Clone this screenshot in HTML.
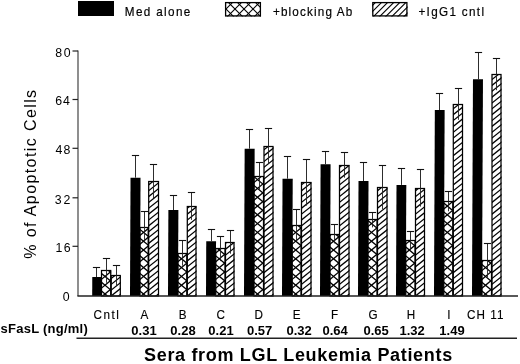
<!DOCTYPE html>
<html><head><meta charset="utf-8"><style>
html,body{margin:0;padding:0;background:#fff;width:520px;height:364px;overflow:hidden}
svg{display:block;font-family:"Liberation Sans", sans-serif;filter:blur(0.3px)}
</style></head><body>
<svg width="520" height="364" viewBox="0 0 520 364" font-family='"Liberation Sans", sans-serif' fill="#000">
<defs><clipPath id="c1"><rect x="101.5" y="270.5" width="9.700000000000003" height="25.5"/></clipPath><clipPath id="c2"><rect x="111.2" y="275.7" width="9.599999999999994" height="20.30000000000001"/></clipPath><clipPath id="c3"><rect x="140" y="227" width="8.699999999999989" height="69"/></clipPath><clipPath id="c4"><rect x="148.7" y="181.4" width="10.300000000000011" height="114.6"/></clipPath><clipPath id="c5"><rect x="178" y="253.1" width="9.300000000000011" height="42.900000000000006"/></clipPath><clipPath id="c6"><rect x="187.3" y="206.2" width="9.199999999999989" height="89.80000000000001"/></clipPath><clipPath id="c7"><rect x="215.8" y="248.8" width="9.699999999999989" height="47.19999999999999"/></clipPath><clipPath id="c8"><rect x="225.5" y="242.1" width="9.0" height="53.900000000000006"/></clipPath><clipPath id="c9"><rect x="254" y="176.1" width="10" height="119.9"/></clipPath><clipPath id="c10"><rect x="264" y="146.2" width="9.5" height="149.8"/></clipPath><clipPath id="c11"><rect x="292.2" y="225.2" width="9.300000000000011" height="70.80000000000001"/></clipPath><clipPath id="c12"><rect x="301.5" y="182.5" width="10.0" height="113.5"/></clipPath><clipPath id="c13"><rect x="330" y="234.1" width="9.5" height="61.900000000000006"/></clipPath><clipPath id="c14"><rect x="339.5" y="165.2" width="10.0" height="130.8"/></clipPath><clipPath id="c15"><rect x="368" y="219.8" width="9.5" height="76.19999999999999"/></clipPath><clipPath id="c16"><rect x="377.5" y="187.2" width="10.0" height="108.80000000000001"/></clipPath><clipPath id="c17"><rect x="405.8" y="240.3" width="9.699999999999989" height="55.69999999999999"/></clipPath><clipPath id="c18"><rect x="415.5" y="188.2" width="9.5" height="107.80000000000001"/></clipPath><clipPath id="c19"><rect x="443.8" y="201.4" width="9.5" height="94.6"/></clipPath><clipPath id="c20"><rect x="453.3" y="104" width="9.699999999999989" height="192"/></clipPath><clipPath id="c21"><rect x="482" y="260.2" width="10" height="35.80000000000001"/></clipPath><clipPath id="c22"><rect x="492" y="74.1" width="9.5" height="221.9"/></clipPath><clipPath id="c23"><rect x="225" y="2" width="36" height="14.5"/></clipPath><clipPath id="c24"><rect x="372.2" y="2" width="35.30000000000001" height="14.5"/></clipPath></defs>
<rect width="520" height="364" fill="#fff"/>
<g transform="matrix(1 0 -0.0045 1 1.3320 0)">
<rect x="92.2" y="277.1" width="9.299999999999997" height="18.899999999999977" fill="#000"/><rect x="130" y="177.7" width="10" height="118.30000000000001" fill="#000"/><rect x="168" y="210" width="10" height="86" fill="#000"/><rect x="206" y="241.2" width="9.800000000000011" height="54.80000000000001" fill="#000"/><rect x="244" y="148.7" width="10" height="147.3" fill="#000"/><rect x="282" y="178.7" width="10.199999999999989" height="117.30000000000001" fill="#000"/><rect x="320" y="164.2" width="10" height="131.8" fill="#000"/><rect x="358" y="181" width="10" height="115" fill="#000"/><rect x="396" y="184.9" width="9.800000000000011" height="111.1" fill="#000"/><rect x="434" y="110" width="9.800000000000011" height="186" fill="#000"/><rect x="472" y="79.3" width="10" height="216.7" fill="#000"/>
</g>
<g stroke="#000" stroke-width="1.3"><g clip-path="url(#c1)"><line x1="81.50" y1="186.49" x2="131.20" y2="227.75"/><line x1="81.50" y1="225.51" x2="131.20" y2="184.25"/><line x1="81.50" y1="195.29" x2="131.20" y2="236.55"/><line x1="81.50" y1="234.31" x2="131.20" y2="193.05"/><line x1="81.50" y1="204.09" x2="131.20" y2="245.35"/><line x1="81.50" y1="243.11" x2="131.20" y2="201.85"/><line x1="81.50" y1="212.89" x2="131.20" y2="254.15"/><line x1="81.50" y1="251.91" x2="131.20" y2="210.65"/><line x1="81.50" y1="221.69" x2="131.20" y2="262.95"/><line x1="81.50" y1="260.71" x2="131.20" y2="219.45"/><line x1="81.50" y1="230.49" x2="131.20" y2="271.75"/><line x1="81.50" y1="269.51" x2="131.20" y2="228.25"/><line x1="81.50" y1="239.29" x2="131.20" y2="280.55"/><line x1="81.50" y1="278.31" x2="131.20" y2="237.05"/><line x1="81.50" y1="248.09" x2="131.20" y2="289.35"/><line x1="81.50" y1="287.11" x2="131.20" y2="245.85"/><line x1="81.50" y1="256.89" x2="131.20" y2="298.15"/><line x1="81.50" y1="295.91" x2="131.20" y2="254.65"/><line x1="81.50" y1="265.69" x2="131.20" y2="306.95"/><line x1="81.50" y1="304.71" x2="131.20" y2="263.45"/><line x1="81.50" y1="274.49" x2="131.20" y2="315.75"/><line x1="81.50" y1="313.51" x2="131.20" y2="272.25"/><line x1="81.50" y1="283.29" x2="131.20" y2="324.55"/><line x1="81.50" y1="322.31" x2="131.20" y2="281.05"/><line x1="81.50" y1="292.09" x2="131.20" y2="333.35"/><line x1="81.50" y1="331.11" x2="131.20" y2="289.85"/><line x1="81.50" y1="300.89" x2="131.20" y2="342.15"/><line x1="81.50" y1="339.91" x2="131.20" y2="298.65"/><line x1="81.50" y1="309.69" x2="131.20" y2="350.95"/><line x1="81.50" y1="348.71" x2="131.20" y2="307.45"/><line x1="81.50" y1="318.49" x2="131.20" y2="359.75"/><line x1="81.50" y1="357.51" x2="131.20" y2="316.25"/><line x1="81.50" y1="327.29" x2="131.20" y2="368.55"/><line x1="81.50" y1="366.31" x2="131.20" y2="325.05"/></g></g><rect x="101.5" y="270.5" width="9.200000000000003" height="25.5" fill="none" stroke="#000" stroke-width="1.25"/><g stroke="#000" stroke-width="1.25"><g clip-path="url(#c2)"><line x1="106.20" y1="223.95" x2="125.80" y2="208.27"/><line x1="106.20" y1="229.80" x2="125.80" y2="214.12"/><line x1="106.20" y1="235.65" x2="125.80" y2="219.97"/><line x1="106.20" y1="241.50" x2="125.80" y2="225.82"/><line x1="106.20" y1="247.35" x2="125.80" y2="231.67"/><line x1="106.20" y1="253.20" x2="125.80" y2="237.52"/><line x1="106.20" y1="259.05" x2="125.80" y2="243.37"/><line x1="106.20" y1="264.90" x2="125.80" y2="249.22"/><line x1="106.20" y1="270.75" x2="125.80" y2="255.07"/><line x1="106.20" y1="276.60" x2="125.80" y2="260.92"/><line x1="106.20" y1="282.45" x2="125.80" y2="266.77"/><line x1="106.20" y1="288.30" x2="125.80" y2="272.62"/><line x1="106.20" y1="294.15" x2="125.80" y2="278.47"/><line x1="106.20" y1="300.00" x2="125.80" y2="284.32"/><line x1="106.20" y1="305.85" x2="125.80" y2="290.17"/><line x1="106.20" y1="311.70" x2="125.80" y2="296.02"/><line x1="106.20" y1="317.55" x2="125.80" y2="301.87"/><line x1="106.20" y1="323.40" x2="125.80" y2="307.72"/><line x1="106.20" y1="329.25" x2="125.80" y2="313.57"/><line x1="106.20" y1="335.10" x2="125.80" y2="319.42"/><line x1="106.20" y1="340.95" x2="125.80" y2="325.27"/><line x1="106.20" y1="346.80" x2="125.80" y2="331.12"/></g></g><rect x="111.2" y="275.5" width="9.099999999999994" height="20.5" fill="none" stroke="#000" stroke-width="1.25"/><g stroke="#000" stroke-width="1.3"><g clip-path="url(#c3)"><line x1="120.00" y1="142.49" x2="168.70" y2="182.92"/><line x1="120.00" y1="181.51" x2="168.70" y2="141.08"/><line x1="120.00" y1="151.29" x2="168.70" y2="191.72"/><line x1="120.00" y1="190.31" x2="168.70" y2="149.88"/><line x1="120.00" y1="160.09" x2="168.70" y2="200.52"/><line x1="120.00" y1="199.11" x2="168.70" y2="158.68"/><line x1="120.00" y1="168.89" x2="168.70" y2="209.32"/><line x1="120.00" y1="207.91" x2="168.70" y2="167.48"/><line x1="120.00" y1="177.69" x2="168.70" y2="218.12"/><line x1="120.00" y1="216.71" x2="168.70" y2="176.28"/><line x1="120.00" y1="186.49" x2="168.70" y2="226.92"/><line x1="120.00" y1="225.51" x2="168.70" y2="185.08"/><line x1="120.00" y1="195.29" x2="168.70" y2="235.72"/><line x1="120.00" y1="234.31" x2="168.70" y2="193.88"/><line x1="120.00" y1="204.09" x2="168.70" y2="244.52"/><line x1="120.00" y1="243.11" x2="168.70" y2="202.68"/><line x1="120.00" y1="212.89" x2="168.70" y2="253.32"/><line x1="120.00" y1="251.91" x2="168.70" y2="211.48"/><line x1="120.00" y1="221.69" x2="168.70" y2="262.12"/><line x1="120.00" y1="260.71" x2="168.70" y2="220.28"/><line x1="120.00" y1="230.49" x2="168.70" y2="270.92"/><line x1="120.00" y1="269.51" x2="168.70" y2="229.08"/><line x1="120.00" y1="239.29" x2="168.70" y2="279.72"/><line x1="120.00" y1="278.31" x2="168.70" y2="237.88"/><line x1="120.00" y1="248.09" x2="168.70" y2="288.52"/><line x1="120.00" y1="287.11" x2="168.70" y2="246.68"/><line x1="120.00" y1="256.89" x2="168.70" y2="297.32"/><line x1="120.00" y1="295.91" x2="168.70" y2="255.48"/><line x1="120.00" y1="265.69" x2="168.70" y2="306.12"/><line x1="120.00" y1="304.71" x2="168.70" y2="264.28"/><line x1="120.00" y1="274.49" x2="168.70" y2="314.92"/><line x1="120.00" y1="313.51" x2="168.70" y2="273.08"/><line x1="120.00" y1="283.29" x2="168.70" y2="323.72"/><line x1="120.00" y1="322.31" x2="168.70" y2="281.88"/><line x1="120.00" y1="292.09" x2="168.70" y2="332.52"/><line x1="120.00" y1="331.11" x2="168.70" y2="290.68"/><line x1="120.00" y1="300.89" x2="168.70" y2="341.32"/><line x1="120.00" y1="339.91" x2="168.70" y2="299.48"/><line x1="120.00" y1="309.69" x2="168.70" y2="350.12"/><line x1="120.00" y1="348.71" x2="168.70" y2="308.28"/><line x1="120.00" y1="318.49" x2="168.70" y2="358.92"/><line x1="120.00" y1="357.51" x2="168.70" y2="317.08"/><line x1="120.00" y1="327.29" x2="168.70" y2="367.72"/><line x1="120.00" y1="366.31" x2="168.70" y2="325.88"/></g></g><rect x="140" y="227.5" width="8.199999999999989" height="68.5" fill="none" stroke="#000" stroke-width="1.25"/><g stroke="#000" stroke-width="1.25"><g clip-path="url(#c4)"><line x1="143.70" y1="130.35" x2="164.00" y2="114.11"/><line x1="143.70" y1="136.20" x2="164.00" y2="119.96"/><line x1="143.70" y1="142.05" x2="164.00" y2="125.81"/><line x1="143.70" y1="147.90" x2="164.00" y2="131.66"/><line x1="143.70" y1="153.75" x2="164.00" y2="137.51"/><line x1="143.70" y1="159.60" x2="164.00" y2="143.36"/><line x1="143.70" y1="165.45" x2="164.00" y2="149.21"/><line x1="143.70" y1="171.30" x2="164.00" y2="155.06"/><line x1="143.70" y1="177.15" x2="164.00" y2="160.91"/><line x1="143.70" y1="183.00" x2="164.00" y2="166.76"/><line x1="143.70" y1="188.85" x2="164.00" y2="172.61"/><line x1="143.70" y1="194.70" x2="164.00" y2="178.46"/><line x1="143.70" y1="200.55" x2="164.00" y2="184.31"/><line x1="143.70" y1="206.40" x2="164.00" y2="190.16"/><line x1="143.70" y1="212.25" x2="164.00" y2="196.01"/><line x1="143.70" y1="218.10" x2="164.00" y2="201.86"/><line x1="143.70" y1="223.95" x2="164.00" y2="207.71"/><line x1="143.70" y1="229.80" x2="164.00" y2="213.56"/><line x1="143.70" y1="235.65" x2="164.00" y2="219.41"/><line x1="143.70" y1="241.50" x2="164.00" y2="225.26"/><line x1="143.70" y1="247.35" x2="164.00" y2="231.11"/><line x1="143.70" y1="253.20" x2="164.00" y2="236.96"/><line x1="143.70" y1="259.05" x2="164.00" y2="242.81"/><line x1="143.70" y1="264.90" x2="164.00" y2="248.66"/><line x1="143.70" y1="270.75" x2="164.00" y2="254.51"/><line x1="143.70" y1="276.60" x2="164.00" y2="260.36"/><line x1="143.70" y1="282.45" x2="164.00" y2="266.21"/><line x1="143.70" y1="288.30" x2="164.00" y2="272.06"/><line x1="143.70" y1="294.15" x2="164.00" y2="277.91"/><line x1="143.70" y1="300.00" x2="164.00" y2="283.76"/><line x1="143.70" y1="305.85" x2="164.00" y2="289.61"/><line x1="143.70" y1="311.70" x2="164.00" y2="295.46"/><line x1="143.70" y1="317.55" x2="164.00" y2="301.31"/><line x1="143.70" y1="323.40" x2="164.00" y2="307.16"/><line x1="143.70" y1="329.25" x2="164.00" y2="313.01"/><line x1="143.70" y1="335.10" x2="164.00" y2="318.86"/><line x1="143.70" y1="340.95" x2="164.00" y2="324.71"/><line x1="143.70" y1="346.80" x2="164.00" y2="330.56"/></g></g><rect x="148.7" y="181.5" width="9.800000000000011" height="114.5" fill="none" stroke="#000" stroke-width="1.25"/><g stroke="#000" stroke-width="1.3"><g clip-path="url(#c5)"><line x1="158.00" y1="168.89" x2="207.30" y2="209.82"/><line x1="158.00" y1="207.91" x2="207.30" y2="166.98"/><line x1="158.00" y1="177.69" x2="207.30" y2="218.62"/><line x1="158.00" y1="216.71" x2="207.30" y2="175.78"/><line x1="158.00" y1="186.49" x2="207.30" y2="227.42"/><line x1="158.00" y1="225.51" x2="207.30" y2="184.58"/><line x1="158.00" y1="195.29" x2="207.30" y2="236.22"/><line x1="158.00" y1="234.31" x2="207.30" y2="193.38"/><line x1="158.00" y1="204.09" x2="207.30" y2="245.02"/><line x1="158.00" y1="243.11" x2="207.30" y2="202.18"/><line x1="158.00" y1="212.89" x2="207.30" y2="253.82"/><line x1="158.00" y1="251.91" x2="207.30" y2="210.98"/><line x1="158.00" y1="221.69" x2="207.30" y2="262.62"/><line x1="158.00" y1="260.71" x2="207.30" y2="219.78"/><line x1="158.00" y1="230.49" x2="207.30" y2="271.42"/><line x1="158.00" y1="269.51" x2="207.30" y2="228.58"/><line x1="158.00" y1="239.29" x2="207.30" y2="280.22"/><line x1="158.00" y1="278.31" x2="207.30" y2="237.38"/><line x1="158.00" y1="248.09" x2="207.30" y2="289.02"/><line x1="158.00" y1="287.11" x2="207.30" y2="246.18"/><line x1="158.00" y1="256.89" x2="207.30" y2="297.82"/><line x1="158.00" y1="295.91" x2="207.30" y2="254.98"/><line x1="158.00" y1="265.69" x2="207.30" y2="306.62"/><line x1="158.00" y1="304.71" x2="207.30" y2="263.78"/><line x1="158.00" y1="274.49" x2="207.30" y2="315.42"/><line x1="158.00" y1="313.51" x2="207.30" y2="272.58"/><line x1="158.00" y1="283.29" x2="207.30" y2="324.22"/><line x1="158.00" y1="322.31" x2="207.30" y2="281.38"/><line x1="158.00" y1="292.09" x2="207.30" y2="333.02"/><line x1="158.00" y1="331.11" x2="207.30" y2="290.18"/><line x1="158.00" y1="300.89" x2="207.30" y2="341.82"/><line x1="158.00" y1="339.91" x2="207.30" y2="298.98"/><line x1="158.00" y1="309.69" x2="207.30" y2="350.62"/><line x1="158.00" y1="348.71" x2="207.30" y2="307.78"/><line x1="158.00" y1="318.49" x2="207.30" y2="359.42"/><line x1="158.00" y1="357.51" x2="207.30" y2="316.58"/><line x1="158.00" y1="327.29" x2="207.30" y2="368.22"/><line x1="158.00" y1="366.31" x2="207.30" y2="325.38"/></g></g><rect x="178" y="253.5" width="8.800000000000011" height="42.5" fill="none" stroke="#000" stroke-width="1.25"/><g stroke="#000" stroke-width="1.25"><g clip-path="url(#c6)"><line x1="182.30" y1="153.75" x2="201.50" y2="138.39"/><line x1="182.30" y1="159.60" x2="201.50" y2="144.24"/><line x1="182.30" y1="165.45" x2="201.50" y2="150.09"/><line x1="182.30" y1="171.30" x2="201.50" y2="155.94"/><line x1="182.30" y1="177.15" x2="201.50" y2="161.79"/><line x1="182.30" y1="183.00" x2="201.50" y2="167.64"/><line x1="182.30" y1="188.85" x2="201.50" y2="173.49"/><line x1="182.30" y1="194.70" x2="201.50" y2="179.34"/><line x1="182.30" y1="200.55" x2="201.50" y2="185.19"/><line x1="182.30" y1="206.40" x2="201.50" y2="191.04"/><line x1="182.30" y1="212.25" x2="201.50" y2="196.89"/><line x1="182.30" y1="218.10" x2="201.50" y2="202.74"/><line x1="182.30" y1="223.95" x2="201.50" y2="208.59"/><line x1="182.30" y1="229.80" x2="201.50" y2="214.44"/><line x1="182.30" y1="235.65" x2="201.50" y2="220.29"/><line x1="182.30" y1="241.50" x2="201.50" y2="226.14"/><line x1="182.30" y1="247.35" x2="201.50" y2="231.99"/><line x1="182.30" y1="253.20" x2="201.50" y2="237.84"/><line x1="182.30" y1="259.05" x2="201.50" y2="243.69"/><line x1="182.30" y1="264.90" x2="201.50" y2="249.54"/><line x1="182.30" y1="270.75" x2="201.50" y2="255.39"/><line x1="182.30" y1="276.60" x2="201.50" y2="261.24"/><line x1="182.30" y1="282.45" x2="201.50" y2="267.09"/><line x1="182.30" y1="288.30" x2="201.50" y2="272.94"/><line x1="182.30" y1="294.15" x2="201.50" y2="278.79"/><line x1="182.30" y1="300.00" x2="201.50" y2="284.64"/><line x1="182.30" y1="305.85" x2="201.50" y2="290.49"/><line x1="182.30" y1="311.70" x2="201.50" y2="296.34"/><line x1="182.30" y1="317.55" x2="201.50" y2="302.19"/><line x1="182.30" y1="323.40" x2="201.50" y2="308.04"/><line x1="182.30" y1="329.25" x2="201.50" y2="313.89"/><line x1="182.30" y1="335.10" x2="201.50" y2="319.74"/><line x1="182.30" y1="340.95" x2="201.50" y2="325.59"/><line x1="182.30" y1="346.80" x2="201.50" y2="331.44"/></g></g><rect x="187.3" y="206.5" width="8.699999999999989" height="89.5" fill="none" stroke="#000" stroke-width="1.25"/><g stroke="#000" stroke-width="1.3"><g clip-path="url(#c7)"><line x1="195.80" y1="168.89" x2="245.50" y2="210.15"/><line x1="195.80" y1="207.91" x2="245.50" y2="166.65"/><line x1="195.80" y1="177.69" x2="245.50" y2="218.95"/><line x1="195.80" y1="216.71" x2="245.50" y2="175.45"/><line x1="195.80" y1="186.49" x2="245.50" y2="227.75"/><line x1="195.80" y1="225.51" x2="245.50" y2="184.25"/><line x1="195.80" y1="195.29" x2="245.50" y2="236.55"/><line x1="195.80" y1="234.31" x2="245.50" y2="193.05"/><line x1="195.80" y1="204.09" x2="245.50" y2="245.35"/><line x1="195.80" y1="243.11" x2="245.50" y2="201.85"/><line x1="195.80" y1="212.89" x2="245.50" y2="254.15"/><line x1="195.80" y1="251.91" x2="245.50" y2="210.65"/><line x1="195.80" y1="221.69" x2="245.50" y2="262.95"/><line x1="195.80" y1="260.71" x2="245.50" y2="219.45"/><line x1="195.80" y1="230.49" x2="245.50" y2="271.75"/><line x1="195.80" y1="269.51" x2="245.50" y2="228.25"/><line x1="195.80" y1="239.29" x2="245.50" y2="280.55"/><line x1="195.80" y1="278.31" x2="245.50" y2="237.05"/><line x1="195.80" y1="248.09" x2="245.50" y2="289.35"/><line x1="195.80" y1="287.11" x2="245.50" y2="245.85"/><line x1="195.80" y1="256.89" x2="245.50" y2="298.15"/><line x1="195.80" y1="295.91" x2="245.50" y2="254.65"/><line x1="195.80" y1="265.69" x2="245.50" y2="306.95"/><line x1="195.80" y1="304.71" x2="245.50" y2="263.45"/><line x1="195.80" y1="274.49" x2="245.50" y2="315.75"/><line x1="195.80" y1="313.51" x2="245.50" y2="272.25"/><line x1="195.80" y1="283.29" x2="245.50" y2="324.55"/><line x1="195.80" y1="322.31" x2="245.50" y2="281.05"/><line x1="195.80" y1="292.09" x2="245.50" y2="333.35"/><line x1="195.80" y1="331.11" x2="245.50" y2="289.85"/><line x1="195.80" y1="300.89" x2="245.50" y2="342.15"/><line x1="195.80" y1="339.91" x2="245.50" y2="298.65"/><line x1="195.80" y1="309.69" x2="245.50" y2="350.95"/><line x1="195.80" y1="348.71" x2="245.50" y2="307.45"/><line x1="195.80" y1="318.49" x2="245.50" y2="359.75"/><line x1="195.80" y1="357.51" x2="245.50" y2="316.25"/><line x1="195.80" y1="327.29" x2="245.50" y2="368.55"/><line x1="195.80" y1="366.31" x2="245.50" y2="325.05"/></g></g><rect x="215.8" y="248.5" width="9.199999999999989" height="47.5" fill="none" stroke="#000" stroke-width="1.25"/><g stroke="#000" stroke-width="1.25"><g clip-path="url(#c8)"><line x1="220.50" y1="188.85" x2="239.50" y2="173.65"/><line x1="220.50" y1="194.70" x2="239.50" y2="179.50"/><line x1="220.50" y1="200.55" x2="239.50" y2="185.35"/><line x1="220.50" y1="206.40" x2="239.50" y2="191.20"/><line x1="220.50" y1="212.25" x2="239.50" y2="197.05"/><line x1="220.50" y1="218.10" x2="239.50" y2="202.90"/><line x1="220.50" y1="223.95" x2="239.50" y2="208.75"/><line x1="220.50" y1="229.80" x2="239.50" y2="214.60"/><line x1="220.50" y1="235.65" x2="239.50" y2="220.45"/><line x1="220.50" y1="241.50" x2="239.50" y2="226.30"/><line x1="220.50" y1="247.35" x2="239.50" y2="232.15"/><line x1="220.50" y1="253.20" x2="239.50" y2="238.00"/><line x1="220.50" y1="259.05" x2="239.50" y2="243.85"/><line x1="220.50" y1="264.90" x2="239.50" y2="249.70"/><line x1="220.50" y1="270.75" x2="239.50" y2="255.55"/><line x1="220.50" y1="276.60" x2="239.50" y2="261.40"/><line x1="220.50" y1="282.45" x2="239.50" y2="267.25"/><line x1="220.50" y1="288.30" x2="239.50" y2="273.10"/><line x1="220.50" y1="294.15" x2="239.50" y2="278.95"/><line x1="220.50" y1="300.00" x2="239.50" y2="284.80"/><line x1="220.50" y1="305.85" x2="239.50" y2="290.65"/><line x1="220.50" y1="311.70" x2="239.50" y2="296.50"/><line x1="220.50" y1="317.55" x2="239.50" y2="302.35"/><line x1="220.50" y1="323.40" x2="239.50" y2="308.20"/><line x1="220.50" y1="329.25" x2="239.50" y2="314.05"/><line x1="220.50" y1="335.10" x2="239.50" y2="319.90"/><line x1="220.50" y1="340.95" x2="239.50" y2="325.75"/><line x1="220.50" y1="346.80" x2="239.50" y2="331.60"/></g></g><rect x="225.5" y="242.5" width="8.5" height="53.5" fill="none" stroke="#000" stroke-width="1.25"/><g stroke="#000" stroke-width="1.3"><g clip-path="url(#c9)"><line x1="234.00" y1="98.49" x2="284.00" y2="140.00"/><line x1="234.00" y1="137.51" x2="284.00" y2="96.00"/><line x1="234.00" y1="107.29" x2="284.00" y2="148.80"/><line x1="234.00" y1="146.31" x2="284.00" y2="104.80"/><line x1="234.00" y1="116.09" x2="284.00" y2="157.60"/><line x1="234.00" y1="155.11" x2="284.00" y2="113.60"/><line x1="234.00" y1="124.89" x2="284.00" y2="166.40"/><line x1="234.00" y1="163.91" x2="284.00" y2="122.40"/><line x1="234.00" y1="133.69" x2="284.00" y2="175.20"/><line x1="234.00" y1="172.71" x2="284.00" y2="131.20"/><line x1="234.00" y1="142.49" x2="284.00" y2="184.00"/><line x1="234.00" y1="181.51" x2="284.00" y2="140.00"/><line x1="234.00" y1="151.29" x2="284.00" y2="192.80"/><line x1="234.00" y1="190.31" x2="284.00" y2="148.80"/><line x1="234.00" y1="160.09" x2="284.00" y2="201.60"/><line x1="234.00" y1="199.11" x2="284.00" y2="157.60"/><line x1="234.00" y1="168.89" x2="284.00" y2="210.40"/><line x1="234.00" y1="207.91" x2="284.00" y2="166.40"/><line x1="234.00" y1="177.69" x2="284.00" y2="219.20"/><line x1="234.00" y1="216.71" x2="284.00" y2="175.20"/><line x1="234.00" y1="186.49" x2="284.00" y2="228.00"/><line x1="234.00" y1="225.51" x2="284.00" y2="184.00"/><line x1="234.00" y1="195.29" x2="284.00" y2="236.80"/><line x1="234.00" y1="234.31" x2="284.00" y2="192.80"/><line x1="234.00" y1="204.09" x2="284.00" y2="245.60"/><line x1="234.00" y1="243.11" x2="284.00" y2="201.60"/><line x1="234.00" y1="212.89" x2="284.00" y2="254.40"/><line x1="234.00" y1="251.91" x2="284.00" y2="210.40"/><line x1="234.00" y1="221.69" x2="284.00" y2="263.20"/><line x1="234.00" y1="260.71" x2="284.00" y2="219.20"/><line x1="234.00" y1="230.49" x2="284.00" y2="272.00"/><line x1="234.00" y1="269.51" x2="284.00" y2="228.00"/><line x1="234.00" y1="239.29" x2="284.00" y2="280.80"/><line x1="234.00" y1="278.31" x2="284.00" y2="236.80"/><line x1="234.00" y1="248.09" x2="284.00" y2="289.60"/><line x1="234.00" y1="287.11" x2="284.00" y2="245.60"/><line x1="234.00" y1="256.89" x2="284.00" y2="298.40"/><line x1="234.00" y1="295.91" x2="284.00" y2="254.40"/><line x1="234.00" y1="265.69" x2="284.00" y2="307.20"/><line x1="234.00" y1="304.71" x2="284.00" y2="263.20"/><line x1="234.00" y1="274.49" x2="284.00" y2="316.00"/><line x1="234.00" y1="313.51" x2="284.00" y2="272.00"/><line x1="234.00" y1="283.29" x2="284.00" y2="324.80"/><line x1="234.00" y1="322.31" x2="284.00" y2="280.80"/><line x1="234.00" y1="292.09" x2="284.00" y2="333.60"/><line x1="234.00" y1="331.11" x2="284.00" y2="289.60"/><line x1="234.00" y1="300.89" x2="284.00" y2="342.40"/><line x1="234.00" y1="339.91" x2="284.00" y2="298.40"/><line x1="234.00" y1="309.69" x2="284.00" y2="351.20"/><line x1="234.00" y1="348.71" x2="284.00" y2="307.20"/><line x1="234.00" y1="318.49" x2="284.00" y2="360.00"/><line x1="234.00" y1="357.51" x2="284.00" y2="316.00"/><line x1="234.00" y1="327.29" x2="284.00" y2="368.80"/><line x1="234.00" y1="366.31" x2="284.00" y2="324.80"/></g></g><rect x="254" y="176.5" width="9.5" height="119.5" fill="none" stroke="#000" stroke-width="1.25"/><g stroke="#000" stroke-width="1.25"><g clip-path="url(#c10)"><line x1="259.00" y1="95.25" x2="278.50" y2="79.65"/><line x1="259.00" y1="101.10" x2="278.50" y2="85.50"/><line x1="259.00" y1="106.95" x2="278.50" y2="91.35"/><line x1="259.00" y1="112.80" x2="278.50" y2="97.20"/><line x1="259.00" y1="118.65" x2="278.50" y2="103.05"/><line x1="259.00" y1="124.50" x2="278.50" y2="108.90"/><line x1="259.00" y1="130.35" x2="278.50" y2="114.75"/><line x1="259.00" y1="136.20" x2="278.50" y2="120.60"/><line x1="259.00" y1="142.05" x2="278.50" y2="126.45"/><line x1="259.00" y1="147.90" x2="278.50" y2="132.30"/><line x1="259.00" y1="153.75" x2="278.50" y2="138.15"/><line x1="259.00" y1="159.60" x2="278.50" y2="144.00"/><line x1="259.00" y1="165.45" x2="278.50" y2="149.85"/><line x1="259.00" y1="171.30" x2="278.50" y2="155.70"/><line x1="259.00" y1="177.15" x2="278.50" y2="161.55"/><line x1="259.00" y1="183.00" x2="278.50" y2="167.40"/><line x1="259.00" y1="188.85" x2="278.50" y2="173.25"/><line x1="259.00" y1="194.70" x2="278.50" y2="179.10"/><line x1="259.00" y1="200.55" x2="278.50" y2="184.95"/><line x1="259.00" y1="206.40" x2="278.50" y2="190.80"/><line x1="259.00" y1="212.25" x2="278.50" y2="196.65"/><line x1="259.00" y1="218.10" x2="278.50" y2="202.50"/><line x1="259.00" y1="223.95" x2="278.50" y2="208.35"/><line x1="259.00" y1="229.80" x2="278.50" y2="214.20"/><line x1="259.00" y1="235.65" x2="278.50" y2="220.05"/><line x1="259.00" y1="241.50" x2="278.50" y2="225.90"/><line x1="259.00" y1="247.35" x2="278.50" y2="231.75"/><line x1="259.00" y1="253.20" x2="278.50" y2="237.60"/><line x1="259.00" y1="259.05" x2="278.50" y2="243.45"/><line x1="259.00" y1="264.90" x2="278.50" y2="249.30"/><line x1="259.00" y1="270.75" x2="278.50" y2="255.15"/><line x1="259.00" y1="276.60" x2="278.50" y2="261.00"/><line x1="259.00" y1="282.45" x2="278.50" y2="266.85"/><line x1="259.00" y1="288.30" x2="278.50" y2="272.70"/><line x1="259.00" y1="294.15" x2="278.50" y2="278.55"/><line x1="259.00" y1="300.00" x2="278.50" y2="284.40"/><line x1="259.00" y1="305.85" x2="278.50" y2="290.25"/><line x1="259.00" y1="311.70" x2="278.50" y2="296.10"/><line x1="259.00" y1="317.55" x2="278.50" y2="301.95"/><line x1="259.00" y1="323.40" x2="278.50" y2="307.80"/><line x1="259.00" y1="329.25" x2="278.50" y2="313.65"/><line x1="259.00" y1="335.10" x2="278.50" y2="319.50"/><line x1="259.00" y1="340.95" x2="278.50" y2="325.35"/><line x1="259.00" y1="346.80" x2="278.50" y2="331.20"/></g></g><rect x="264" y="146.5" width="9.0" height="149.5" fill="none" stroke="#000" stroke-width="1.25"/><g stroke="#000" stroke-width="1.3"><g clip-path="url(#c11)"><line x1="272.20" y1="142.49" x2="321.50" y2="183.42"/><line x1="272.20" y1="181.51" x2="321.50" y2="140.58"/><line x1="272.20" y1="151.29" x2="321.50" y2="192.22"/><line x1="272.20" y1="190.31" x2="321.50" y2="149.38"/><line x1="272.20" y1="160.09" x2="321.50" y2="201.02"/><line x1="272.20" y1="199.11" x2="321.50" y2="158.18"/><line x1="272.20" y1="168.89" x2="321.50" y2="209.82"/><line x1="272.20" y1="207.91" x2="321.50" y2="166.98"/><line x1="272.20" y1="177.69" x2="321.50" y2="218.62"/><line x1="272.20" y1="216.71" x2="321.50" y2="175.78"/><line x1="272.20" y1="186.49" x2="321.50" y2="227.42"/><line x1="272.20" y1="225.51" x2="321.50" y2="184.58"/><line x1="272.20" y1="195.29" x2="321.50" y2="236.22"/><line x1="272.20" y1="234.31" x2="321.50" y2="193.38"/><line x1="272.20" y1="204.09" x2="321.50" y2="245.02"/><line x1="272.20" y1="243.11" x2="321.50" y2="202.18"/><line x1="272.20" y1="212.89" x2="321.50" y2="253.82"/><line x1="272.20" y1="251.91" x2="321.50" y2="210.98"/><line x1="272.20" y1="221.69" x2="321.50" y2="262.62"/><line x1="272.20" y1="260.71" x2="321.50" y2="219.78"/><line x1="272.20" y1="230.49" x2="321.50" y2="271.42"/><line x1="272.20" y1="269.51" x2="321.50" y2="228.58"/><line x1="272.20" y1="239.29" x2="321.50" y2="280.22"/><line x1="272.20" y1="278.31" x2="321.50" y2="237.38"/><line x1="272.20" y1="248.09" x2="321.50" y2="289.02"/><line x1="272.20" y1="287.11" x2="321.50" y2="246.18"/><line x1="272.20" y1="256.89" x2="321.50" y2="297.82"/><line x1="272.20" y1="295.91" x2="321.50" y2="254.98"/><line x1="272.20" y1="265.69" x2="321.50" y2="306.62"/><line x1="272.20" y1="304.71" x2="321.50" y2="263.78"/><line x1="272.20" y1="274.49" x2="321.50" y2="315.42"/><line x1="272.20" y1="313.51" x2="321.50" y2="272.58"/><line x1="272.20" y1="283.29" x2="321.50" y2="324.22"/><line x1="272.20" y1="322.31" x2="321.50" y2="281.38"/><line x1="272.20" y1="292.09" x2="321.50" y2="333.02"/><line x1="272.20" y1="331.11" x2="321.50" y2="290.18"/><line x1="272.20" y1="300.89" x2="321.50" y2="341.82"/><line x1="272.20" y1="339.91" x2="321.50" y2="298.98"/><line x1="272.20" y1="309.69" x2="321.50" y2="350.62"/><line x1="272.20" y1="348.71" x2="321.50" y2="307.78"/><line x1="272.20" y1="318.49" x2="321.50" y2="359.42"/><line x1="272.20" y1="357.51" x2="321.50" y2="316.58"/><line x1="272.20" y1="327.29" x2="321.50" y2="368.22"/><line x1="272.20" y1="366.31" x2="321.50" y2="325.38"/></g></g><rect x="292.2" y="225.5" width="8.800000000000011" height="70.5" fill="none" stroke="#000" stroke-width="1.25"/><g stroke="#000" stroke-width="1.25"><g clip-path="url(#c12)"><line x1="296.50" y1="130.35" x2="316.50" y2="114.35"/><line x1="296.50" y1="136.20" x2="316.50" y2="120.20"/><line x1="296.50" y1="142.05" x2="316.50" y2="126.05"/><line x1="296.50" y1="147.90" x2="316.50" y2="131.90"/><line x1="296.50" y1="153.75" x2="316.50" y2="137.75"/><line x1="296.50" y1="159.60" x2="316.50" y2="143.60"/><line x1="296.50" y1="165.45" x2="316.50" y2="149.45"/><line x1="296.50" y1="171.30" x2="316.50" y2="155.30"/><line x1="296.50" y1="177.15" x2="316.50" y2="161.15"/><line x1="296.50" y1="183.00" x2="316.50" y2="167.00"/><line x1="296.50" y1="188.85" x2="316.50" y2="172.85"/><line x1="296.50" y1="194.70" x2="316.50" y2="178.70"/><line x1="296.50" y1="200.55" x2="316.50" y2="184.55"/><line x1="296.50" y1="206.40" x2="316.50" y2="190.40"/><line x1="296.50" y1="212.25" x2="316.50" y2="196.25"/><line x1="296.50" y1="218.10" x2="316.50" y2="202.10"/><line x1="296.50" y1="223.95" x2="316.50" y2="207.95"/><line x1="296.50" y1="229.80" x2="316.50" y2="213.80"/><line x1="296.50" y1="235.65" x2="316.50" y2="219.65"/><line x1="296.50" y1="241.50" x2="316.50" y2="225.50"/><line x1="296.50" y1="247.35" x2="316.50" y2="231.35"/><line x1="296.50" y1="253.20" x2="316.50" y2="237.20"/><line x1="296.50" y1="259.05" x2="316.50" y2="243.05"/><line x1="296.50" y1="264.90" x2="316.50" y2="248.90"/><line x1="296.50" y1="270.75" x2="316.50" y2="254.75"/><line x1="296.50" y1="276.60" x2="316.50" y2="260.60"/><line x1="296.50" y1="282.45" x2="316.50" y2="266.45"/><line x1="296.50" y1="288.30" x2="316.50" y2="272.30"/><line x1="296.50" y1="294.15" x2="316.50" y2="278.15"/><line x1="296.50" y1="300.00" x2="316.50" y2="284.00"/><line x1="296.50" y1="305.85" x2="316.50" y2="289.85"/><line x1="296.50" y1="311.70" x2="316.50" y2="295.70"/><line x1="296.50" y1="317.55" x2="316.50" y2="301.55"/><line x1="296.50" y1="323.40" x2="316.50" y2="307.40"/><line x1="296.50" y1="329.25" x2="316.50" y2="313.25"/><line x1="296.50" y1="335.10" x2="316.50" y2="319.10"/><line x1="296.50" y1="340.95" x2="316.50" y2="324.95"/><line x1="296.50" y1="346.80" x2="316.50" y2="330.80"/></g></g><rect x="301.5" y="182.5" width="9.5" height="113.5" fill="none" stroke="#000" stroke-width="1.25"/><g stroke="#000" stroke-width="1.3"><g clip-path="url(#c13)"><line x1="310.00" y1="151.29" x2="359.50" y2="192.38"/><line x1="310.00" y1="190.31" x2="359.50" y2="149.22"/><line x1="310.00" y1="160.09" x2="359.50" y2="201.18"/><line x1="310.00" y1="199.11" x2="359.50" y2="158.02"/><line x1="310.00" y1="168.89" x2="359.50" y2="209.98"/><line x1="310.00" y1="207.91" x2="359.50" y2="166.82"/><line x1="310.00" y1="177.69" x2="359.50" y2="218.78"/><line x1="310.00" y1="216.71" x2="359.50" y2="175.62"/><line x1="310.00" y1="186.49" x2="359.50" y2="227.58"/><line x1="310.00" y1="225.51" x2="359.50" y2="184.42"/><line x1="310.00" y1="195.29" x2="359.50" y2="236.38"/><line x1="310.00" y1="234.31" x2="359.50" y2="193.22"/><line x1="310.00" y1="204.09" x2="359.50" y2="245.18"/><line x1="310.00" y1="243.11" x2="359.50" y2="202.02"/><line x1="310.00" y1="212.89" x2="359.50" y2="253.98"/><line x1="310.00" y1="251.91" x2="359.50" y2="210.82"/><line x1="310.00" y1="221.69" x2="359.50" y2="262.78"/><line x1="310.00" y1="260.71" x2="359.50" y2="219.62"/><line x1="310.00" y1="230.49" x2="359.50" y2="271.58"/><line x1="310.00" y1="269.51" x2="359.50" y2="228.42"/><line x1="310.00" y1="239.29" x2="359.50" y2="280.38"/><line x1="310.00" y1="278.31" x2="359.50" y2="237.22"/><line x1="310.00" y1="248.09" x2="359.50" y2="289.18"/><line x1="310.00" y1="287.11" x2="359.50" y2="246.02"/><line x1="310.00" y1="256.89" x2="359.50" y2="297.98"/><line x1="310.00" y1="295.91" x2="359.50" y2="254.82"/><line x1="310.00" y1="265.69" x2="359.50" y2="306.78"/><line x1="310.00" y1="304.71" x2="359.50" y2="263.62"/><line x1="310.00" y1="274.49" x2="359.50" y2="315.58"/><line x1="310.00" y1="313.51" x2="359.50" y2="272.42"/><line x1="310.00" y1="283.29" x2="359.50" y2="324.38"/><line x1="310.00" y1="322.31" x2="359.50" y2="281.22"/><line x1="310.00" y1="292.09" x2="359.50" y2="333.18"/><line x1="310.00" y1="331.11" x2="359.50" y2="290.02"/><line x1="310.00" y1="300.89" x2="359.50" y2="341.98"/><line x1="310.00" y1="339.91" x2="359.50" y2="298.82"/><line x1="310.00" y1="309.69" x2="359.50" y2="350.78"/><line x1="310.00" y1="348.71" x2="359.50" y2="307.62"/><line x1="310.00" y1="318.49" x2="359.50" y2="359.58"/><line x1="310.00" y1="357.51" x2="359.50" y2="316.42"/><line x1="310.00" y1="327.29" x2="359.50" y2="368.38"/><line x1="310.00" y1="366.31" x2="359.50" y2="325.22"/></g></g><rect x="330" y="234.5" width="9.0" height="61.5" fill="none" stroke="#000" stroke-width="1.25"/><g stroke="#000" stroke-width="1.25"><g clip-path="url(#c14)"><line x1="334.50" y1="112.80" x2="354.50" y2="96.80"/><line x1="334.50" y1="118.65" x2="354.50" y2="102.65"/><line x1="334.50" y1="124.50" x2="354.50" y2="108.50"/><line x1="334.50" y1="130.35" x2="354.50" y2="114.35"/><line x1="334.50" y1="136.20" x2="354.50" y2="120.20"/><line x1="334.50" y1="142.05" x2="354.50" y2="126.05"/><line x1="334.50" y1="147.90" x2="354.50" y2="131.90"/><line x1="334.50" y1="153.75" x2="354.50" y2="137.75"/><line x1="334.50" y1="159.60" x2="354.50" y2="143.60"/><line x1="334.50" y1="165.45" x2="354.50" y2="149.45"/><line x1="334.50" y1="171.30" x2="354.50" y2="155.30"/><line x1="334.50" y1="177.15" x2="354.50" y2="161.15"/><line x1="334.50" y1="183.00" x2="354.50" y2="167.00"/><line x1="334.50" y1="188.85" x2="354.50" y2="172.85"/><line x1="334.50" y1="194.70" x2="354.50" y2="178.70"/><line x1="334.50" y1="200.55" x2="354.50" y2="184.55"/><line x1="334.50" y1="206.40" x2="354.50" y2="190.40"/><line x1="334.50" y1="212.25" x2="354.50" y2="196.25"/><line x1="334.50" y1="218.10" x2="354.50" y2="202.10"/><line x1="334.50" y1="223.95" x2="354.50" y2="207.95"/><line x1="334.50" y1="229.80" x2="354.50" y2="213.80"/><line x1="334.50" y1="235.65" x2="354.50" y2="219.65"/><line x1="334.50" y1="241.50" x2="354.50" y2="225.50"/><line x1="334.50" y1="247.35" x2="354.50" y2="231.35"/><line x1="334.50" y1="253.20" x2="354.50" y2="237.20"/><line x1="334.50" y1="259.05" x2="354.50" y2="243.05"/><line x1="334.50" y1="264.90" x2="354.50" y2="248.90"/><line x1="334.50" y1="270.75" x2="354.50" y2="254.75"/><line x1="334.50" y1="276.60" x2="354.50" y2="260.60"/><line x1="334.50" y1="282.45" x2="354.50" y2="266.45"/><line x1="334.50" y1="288.30" x2="354.50" y2="272.30"/><line x1="334.50" y1="294.15" x2="354.50" y2="278.15"/><line x1="334.50" y1="300.00" x2="354.50" y2="284.00"/><line x1="334.50" y1="305.85" x2="354.50" y2="289.85"/><line x1="334.50" y1="311.70" x2="354.50" y2="295.70"/><line x1="334.50" y1="317.55" x2="354.50" y2="301.55"/><line x1="334.50" y1="323.40" x2="354.50" y2="307.40"/><line x1="334.50" y1="329.25" x2="354.50" y2="313.25"/><line x1="334.50" y1="335.10" x2="354.50" y2="319.10"/><line x1="334.50" y1="340.95" x2="354.50" y2="324.95"/><line x1="334.50" y1="346.80" x2="354.50" y2="330.80"/></g></g><rect x="339.5" y="165.5" width="9.5" height="130.5" fill="none" stroke="#000" stroke-width="1.25"/><g stroke="#000" stroke-width="1.3"><g clip-path="url(#c15)"><line x1="348.00" y1="142.49" x2="397.50" y2="183.58"/><line x1="348.00" y1="181.51" x2="397.50" y2="140.42"/><line x1="348.00" y1="151.29" x2="397.50" y2="192.38"/><line x1="348.00" y1="190.31" x2="397.50" y2="149.22"/><line x1="348.00" y1="160.09" x2="397.50" y2="201.18"/><line x1="348.00" y1="199.11" x2="397.50" y2="158.02"/><line x1="348.00" y1="168.89" x2="397.50" y2="209.98"/><line x1="348.00" y1="207.91" x2="397.50" y2="166.82"/><line x1="348.00" y1="177.69" x2="397.50" y2="218.78"/><line x1="348.00" y1="216.71" x2="397.50" y2="175.62"/><line x1="348.00" y1="186.49" x2="397.50" y2="227.58"/><line x1="348.00" y1="225.51" x2="397.50" y2="184.42"/><line x1="348.00" y1="195.29" x2="397.50" y2="236.38"/><line x1="348.00" y1="234.31" x2="397.50" y2="193.22"/><line x1="348.00" y1="204.09" x2="397.50" y2="245.18"/><line x1="348.00" y1="243.11" x2="397.50" y2="202.02"/><line x1="348.00" y1="212.89" x2="397.50" y2="253.98"/><line x1="348.00" y1="251.91" x2="397.50" y2="210.82"/><line x1="348.00" y1="221.69" x2="397.50" y2="262.78"/><line x1="348.00" y1="260.71" x2="397.50" y2="219.62"/><line x1="348.00" y1="230.49" x2="397.50" y2="271.58"/><line x1="348.00" y1="269.51" x2="397.50" y2="228.42"/><line x1="348.00" y1="239.29" x2="397.50" y2="280.38"/><line x1="348.00" y1="278.31" x2="397.50" y2="237.22"/><line x1="348.00" y1="248.09" x2="397.50" y2="289.18"/><line x1="348.00" y1="287.11" x2="397.50" y2="246.02"/><line x1="348.00" y1="256.89" x2="397.50" y2="297.98"/><line x1="348.00" y1="295.91" x2="397.50" y2="254.82"/><line x1="348.00" y1="265.69" x2="397.50" y2="306.78"/><line x1="348.00" y1="304.71" x2="397.50" y2="263.62"/><line x1="348.00" y1="274.49" x2="397.50" y2="315.58"/><line x1="348.00" y1="313.51" x2="397.50" y2="272.42"/><line x1="348.00" y1="283.29" x2="397.50" y2="324.38"/><line x1="348.00" y1="322.31" x2="397.50" y2="281.22"/><line x1="348.00" y1="292.09" x2="397.50" y2="333.18"/><line x1="348.00" y1="331.11" x2="397.50" y2="290.02"/><line x1="348.00" y1="300.89" x2="397.50" y2="341.98"/><line x1="348.00" y1="339.91" x2="397.50" y2="298.82"/><line x1="348.00" y1="309.69" x2="397.50" y2="350.78"/><line x1="348.00" y1="348.71" x2="397.50" y2="307.62"/><line x1="348.00" y1="318.49" x2="397.50" y2="359.58"/><line x1="348.00" y1="357.51" x2="397.50" y2="316.42"/><line x1="348.00" y1="327.29" x2="397.50" y2="368.38"/><line x1="348.00" y1="366.31" x2="397.50" y2="325.22"/></g></g><rect x="368" y="219.5" width="9.0" height="76.5" fill="none" stroke="#000" stroke-width="1.25"/><g stroke="#000" stroke-width="1.25"><g clip-path="url(#c16)"><line x1="372.50" y1="136.20" x2="392.50" y2="120.20"/><line x1="372.50" y1="142.05" x2="392.50" y2="126.05"/><line x1="372.50" y1="147.90" x2="392.50" y2="131.90"/><line x1="372.50" y1="153.75" x2="392.50" y2="137.75"/><line x1="372.50" y1="159.60" x2="392.50" y2="143.60"/><line x1="372.50" y1="165.45" x2="392.50" y2="149.45"/><line x1="372.50" y1="171.30" x2="392.50" y2="155.30"/><line x1="372.50" y1="177.15" x2="392.50" y2="161.15"/><line x1="372.50" y1="183.00" x2="392.50" y2="167.00"/><line x1="372.50" y1="188.85" x2="392.50" y2="172.85"/><line x1="372.50" y1="194.70" x2="392.50" y2="178.70"/><line x1="372.50" y1="200.55" x2="392.50" y2="184.55"/><line x1="372.50" y1="206.40" x2="392.50" y2="190.40"/><line x1="372.50" y1="212.25" x2="392.50" y2="196.25"/><line x1="372.50" y1="218.10" x2="392.50" y2="202.10"/><line x1="372.50" y1="223.95" x2="392.50" y2="207.95"/><line x1="372.50" y1="229.80" x2="392.50" y2="213.80"/><line x1="372.50" y1="235.65" x2="392.50" y2="219.65"/><line x1="372.50" y1="241.50" x2="392.50" y2="225.50"/><line x1="372.50" y1="247.35" x2="392.50" y2="231.35"/><line x1="372.50" y1="253.20" x2="392.50" y2="237.20"/><line x1="372.50" y1="259.05" x2="392.50" y2="243.05"/><line x1="372.50" y1="264.90" x2="392.50" y2="248.90"/><line x1="372.50" y1="270.75" x2="392.50" y2="254.75"/><line x1="372.50" y1="276.60" x2="392.50" y2="260.60"/><line x1="372.50" y1="282.45" x2="392.50" y2="266.45"/><line x1="372.50" y1="288.30" x2="392.50" y2="272.30"/><line x1="372.50" y1="294.15" x2="392.50" y2="278.15"/><line x1="372.50" y1="300.00" x2="392.50" y2="284.00"/><line x1="372.50" y1="305.85" x2="392.50" y2="289.85"/><line x1="372.50" y1="311.70" x2="392.50" y2="295.70"/><line x1="372.50" y1="317.55" x2="392.50" y2="301.55"/><line x1="372.50" y1="323.40" x2="392.50" y2="307.40"/><line x1="372.50" y1="329.25" x2="392.50" y2="313.25"/><line x1="372.50" y1="335.10" x2="392.50" y2="319.10"/><line x1="372.50" y1="340.95" x2="392.50" y2="324.95"/><line x1="372.50" y1="346.80" x2="392.50" y2="330.80"/></g></g><rect x="377.5" y="187.5" width="9.5" height="108.5" fill="none" stroke="#000" stroke-width="1.25"/><g stroke="#000" stroke-width="1.3"><g clip-path="url(#c17)"><line x1="385.80" y1="160.09" x2="435.50" y2="201.35"/><line x1="385.80" y1="199.11" x2="435.50" y2="157.85"/><line x1="385.80" y1="168.89" x2="435.50" y2="210.15"/><line x1="385.80" y1="207.91" x2="435.50" y2="166.65"/><line x1="385.80" y1="177.69" x2="435.50" y2="218.95"/><line x1="385.80" y1="216.71" x2="435.50" y2="175.45"/><line x1="385.80" y1="186.49" x2="435.50" y2="227.75"/><line x1="385.80" y1="225.51" x2="435.50" y2="184.25"/><line x1="385.80" y1="195.29" x2="435.50" y2="236.55"/><line x1="385.80" y1="234.31" x2="435.50" y2="193.05"/><line x1="385.80" y1="204.09" x2="435.50" y2="245.35"/><line x1="385.80" y1="243.11" x2="435.50" y2="201.85"/><line x1="385.80" y1="212.89" x2="435.50" y2="254.15"/><line x1="385.80" y1="251.91" x2="435.50" y2="210.65"/><line x1="385.80" y1="221.69" x2="435.50" y2="262.95"/><line x1="385.80" y1="260.71" x2="435.50" y2="219.45"/><line x1="385.80" y1="230.49" x2="435.50" y2="271.75"/><line x1="385.80" y1="269.51" x2="435.50" y2="228.25"/><line x1="385.80" y1="239.29" x2="435.50" y2="280.55"/><line x1="385.80" y1="278.31" x2="435.50" y2="237.05"/><line x1="385.80" y1="248.09" x2="435.50" y2="289.35"/><line x1="385.80" y1="287.11" x2="435.50" y2="245.85"/><line x1="385.80" y1="256.89" x2="435.50" y2="298.15"/><line x1="385.80" y1="295.91" x2="435.50" y2="254.65"/><line x1="385.80" y1="265.69" x2="435.50" y2="306.95"/><line x1="385.80" y1="304.71" x2="435.50" y2="263.45"/><line x1="385.80" y1="274.49" x2="435.50" y2="315.75"/><line x1="385.80" y1="313.51" x2="435.50" y2="272.25"/><line x1="385.80" y1="283.29" x2="435.50" y2="324.55"/><line x1="385.80" y1="322.31" x2="435.50" y2="281.05"/><line x1="385.80" y1="292.09" x2="435.50" y2="333.35"/><line x1="385.80" y1="331.11" x2="435.50" y2="289.85"/><line x1="385.80" y1="300.89" x2="435.50" y2="342.15"/><line x1="385.80" y1="339.91" x2="435.50" y2="298.65"/><line x1="385.80" y1="309.69" x2="435.50" y2="350.95"/><line x1="385.80" y1="348.71" x2="435.50" y2="307.45"/><line x1="385.80" y1="318.49" x2="435.50" y2="359.75"/><line x1="385.80" y1="357.51" x2="435.50" y2="316.25"/><line x1="385.80" y1="327.29" x2="435.50" y2="368.55"/><line x1="385.80" y1="366.31" x2="435.50" y2="325.05"/></g></g><rect x="405.8" y="240.5" width="9.199999999999989" height="55.5" fill="none" stroke="#000" stroke-width="1.25"/><g stroke="#000" stroke-width="1.25"><g clip-path="url(#c18)"><line x1="410.50" y1="136.20" x2="430.00" y2="120.60"/><line x1="410.50" y1="142.05" x2="430.00" y2="126.45"/><line x1="410.50" y1="147.90" x2="430.00" y2="132.30"/><line x1="410.50" y1="153.75" x2="430.00" y2="138.15"/><line x1="410.50" y1="159.60" x2="430.00" y2="144.00"/><line x1="410.50" y1="165.45" x2="430.00" y2="149.85"/><line x1="410.50" y1="171.30" x2="430.00" y2="155.70"/><line x1="410.50" y1="177.15" x2="430.00" y2="161.55"/><line x1="410.50" y1="183.00" x2="430.00" y2="167.40"/><line x1="410.50" y1="188.85" x2="430.00" y2="173.25"/><line x1="410.50" y1="194.70" x2="430.00" y2="179.10"/><line x1="410.50" y1="200.55" x2="430.00" y2="184.95"/><line x1="410.50" y1="206.40" x2="430.00" y2="190.80"/><line x1="410.50" y1="212.25" x2="430.00" y2="196.65"/><line x1="410.50" y1="218.10" x2="430.00" y2="202.50"/><line x1="410.50" y1="223.95" x2="430.00" y2="208.35"/><line x1="410.50" y1="229.80" x2="430.00" y2="214.20"/><line x1="410.50" y1="235.65" x2="430.00" y2="220.05"/><line x1="410.50" y1="241.50" x2="430.00" y2="225.90"/><line x1="410.50" y1="247.35" x2="430.00" y2="231.75"/><line x1="410.50" y1="253.20" x2="430.00" y2="237.60"/><line x1="410.50" y1="259.05" x2="430.00" y2="243.45"/><line x1="410.50" y1="264.90" x2="430.00" y2="249.30"/><line x1="410.50" y1="270.75" x2="430.00" y2="255.15"/><line x1="410.50" y1="276.60" x2="430.00" y2="261.00"/><line x1="410.50" y1="282.45" x2="430.00" y2="266.85"/><line x1="410.50" y1="288.30" x2="430.00" y2="272.70"/><line x1="410.50" y1="294.15" x2="430.00" y2="278.55"/><line x1="410.50" y1="300.00" x2="430.00" y2="284.40"/><line x1="410.50" y1="305.85" x2="430.00" y2="290.25"/><line x1="410.50" y1="311.70" x2="430.00" y2="296.10"/><line x1="410.50" y1="317.55" x2="430.00" y2="301.95"/><line x1="410.50" y1="323.40" x2="430.00" y2="307.80"/><line x1="410.50" y1="329.25" x2="430.00" y2="313.65"/><line x1="410.50" y1="335.10" x2="430.00" y2="319.50"/><line x1="410.50" y1="340.95" x2="430.00" y2="325.35"/><line x1="410.50" y1="346.80" x2="430.00" y2="331.20"/></g></g><rect x="415.5" y="188.5" width="9.0" height="107.5" fill="none" stroke="#000" stroke-width="1.25"/><g stroke="#000" stroke-width="1.3"><g clip-path="url(#c19)"><line x1="423.80" y1="116.09" x2="473.30" y2="157.18"/><line x1="423.80" y1="155.11" x2="473.30" y2="114.02"/><line x1="423.80" y1="124.89" x2="473.30" y2="165.98"/><line x1="423.80" y1="163.91" x2="473.30" y2="122.82"/><line x1="423.80" y1="133.69" x2="473.30" y2="174.78"/><line x1="423.80" y1="172.71" x2="473.30" y2="131.62"/><line x1="423.80" y1="142.49" x2="473.30" y2="183.58"/><line x1="423.80" y1="181.51" x2="473.30" y2="140.42"/><line x1="423.80" y1="151.29" x2="473.30" y2="192.38"/><line x1="423.80" y1="190.31" x2="473.30" y2="149.22"/><line x1="423.80" y1="160.09" x2="473.30" y2="201.18"/><line x1="423.80" y1="199.11" x2="473.30" y2="158.02"/><line x1="423.80" y1="168.89" x2="473.30" y2="209.98"/><line x1="423.80" y1="207.91" x2="473.30" y2="166.82"/><line x1="423.80" y1="177.69" x2="473.30" y2="218.78"/><line x1="423.80" y1="216.71" x2="473.30" y2="175.62"/><line x1="423.80" y1="186.49" x2="473.30" y2="227.58"/><line x1="423.80" y1="225.51" x2="473.30" y2="184.42"/><line x1="423.80" y1="195.29" x2="473.30" y2="236.38"/><line x1="423.80" y1="234.31" x2="473.30" y2="193.22"/><line x1="423.80" y1="204.09" x2="473.30" y2="245.18"/><line x1="423.80" y1="243.11" x2="473.30" y2="202.02"/><line x1="423.80" y1="212.89" x2="473.30" y2="253.98"/><line x1="423.80" y1="251.91" x2="473.30" y2="210.82"/><line x1="423.80" y1="221.69" x2="473.30" y2="262.78"/><line x1="423.80" y1="260.71" x2="473.30" y2="219.62"/><line x1="423.80" y1="230.49" x2="473.30" y2="271.58"/><line x1="423.80" y1="269.51" x2="473.30" y2="228.42"/><line x1="423.80" y1="239.29" x2="473.30" y2="280.38"/><line x1="423.80" y1="278.31" x2="473.30" y2="237.22"/><line x1="423.80" y1="248.09" x2="473.30" y2="289.18"/><line x1="423.80" y1="287.11" x2="473.30" y2="246.02"/><line x1="423.80" y1="256.89" x2="473.30" y2="297.98"/><line x1="423.80" y1="295.91" x2="473.30" y2="254.82"/><line x1="423.80" y1="265.69" x2="473.30" y2="306.78"/><line x1="423.80" y1="304.71" x2="473.30" y2="263.62"/><line x1="423.80" y1="274.49" x2="473.30" y2="315.58"/><line x1="423.80" y1="313.51" x2="473.30" y2="272.42"/><line x1="423.80" y1="283.29" x2="473.30" y2="324.38"/><line x1="423.80" y1="322.31" x2="473.30" y2="281.22"/><line x1="423.80" y1="292.09" x2="473.30" y2="333.18"/><line x1="423.80" y1="331.11" x2="473.30" y2="290.02"/><line x1="423.80" y1="300.89" x2="473.30" y2="341.98"/><line x1="423.80" y1="339.91" x2="473.30" y2="298.82"/><line x1="423.80" y1="309.69" x2="473.30" y2="350.78"/><line x1="423.80" y1="348.71" x2="473.30" y2="307.62"/><line x1="423.80" y1="318.49" x2="473.30" y2="359.58"/><line x1="423.80" y1="357.51" x2="473.30" y2="316.42"/><line x1="423.80" y1="327.29" x2="473.30" y2="368.38"/><line x1="423.80" y1="366.31" x2="473.30" y2="325.22"/></g></g><rect x="443.8" y="201.5" width="9.0" height="94.5" fill="none" stroke="#000" stroke-width="1.25"/><g stroke="#000" stroke-width="1.25"><g clip-path="url(#c20)"><line x1="448.30" y1="54.30" x2="468.00" y2="38.54"/><line x1="448.30" y1="60.15" x2="468.00" y2="44.39"/><line x1="448.30" y1="66.00" x2="468.00" y2="50.24"/><line x1="448.30" y1="71.85" x2="468.00" y2="56.09"/><line x1="448.30" y1="77.70" x2="468.00" y2="61.94"/><line x1="448.30" y1="83.55" x2="468.00" y2="67.79"/><line x1="448.30" y1="89.40" x2="468.00" y2="73.64"/><line x1="448.30" y1="95.25" x2="468.00" y2="79.49"/><line x1="448.30" y1="101.10" x2="468.00" y2="85.34"/><line x1="448.30" y1="106.95" x2="468.00" y2="91.19"/><line x1="448.30" y1="112.80" x2="468.00" y2="97.04"/><line x1="448.30" y1="118.65" x2="468.00" y2="102.89"/><line x1="448.30" y1="124.50" x2="468.00" y2="108.74"/><line x1="448.30" y1="130.35" x2="468.00" y2="114.59"/><line x1="448.30" y1="136.20" x2="468.00" y2="120.44"/><line x1="448.30" y1="142.05" x2="468.00" y2="126.29"/><line x1="448.30" y1="147.90" x2="468.00" y2="132.14"/><line x1="448.30" y1="153.75" x2="468.00" y2="137.99"/><line x1="448.30" y1="159.60" x2="468.00" y2="143.84"/><line x1="448.30" y1="165.45" x2="468.00" y2="149.69"/><line x1="448.30" y1="171.30" x2="468.00" y2="155.54"/><line x1="448.30" y1="177.15" x2="468.00" y2="161.39"/><line x1="448.30" y1="183.00" x2="468.00" y2="167.24"/><line x1="448.30" y1="188.85" x2="468.00" y2="173.09"/><line x1="448.30" y1="194.70" x2="468.00" y2="178.94"/><line x1="448.30" y1="200.55" x2="468.00" y2="184.79"/><line x1="448.30" y1="206.40" x2="468.00" y2="190.64"/><line x1="448.30" y1="212.25" x2="468.00" y2="196.49"/><line x1="448.30" y1="218.10" x2="468.00" y2="202.34"/><line x1="448.30" y1="223.95" x2="468.00" y2="208.19"/><line x1="448.30" y1="229.80" x2="468.00" y2="214.04"/><line x1="448.30" y1="235.65" x2="468.00" y2="219.89"/><line x1="448.30" y1="241.50" x2="468.00" y2="225.74"/><line x1="448.30" y1="247.35" x2="468.00" y2="231.59"/><line x1="448.30" y1="253.20" x2="468.00" y2="237.44"/><line x1="448.30" y1="259.05" x2="468.00" y2="243.29"/><line x1="448.30" y1="264.90" x2="468.00" y2="249.14"/><line x1="448.30" y1="270.75" x2="468.00" y2="254.99"/><line x1="448.30" y1="276.60" x2="468.00" y2="260.84"/><line x1="448.30" y1="282.45" x2="468.00" y2="266.69"/><line x1="448.30" y1="288.30" x2="468.00" y2="272.54"/><line x1="448.30" y1="294.15" x2="468.00" y2="278.39"/><line x1="448.30" y1="300.00" x2="468.00" y2="284.24"/><line x1="448.30" y1="305.85" x2="468.00" y2="290.09"/><line x1="448.30" y1="311.70" x2="468.00" y2="295.94"/><line x1="448.30" y1="317.55" x2="468.00" y2="301.79"/><line x1="448.30" y1="323.40" x2="468.00" y2="307.64"/><line x1="448.30" y1="329.25" x2="468.00" y2="313.49"/><line x1="448.30" y1="335.10" x2="468.00" y2="319.34"/><line x1="448.30" y1="340.95" x2="468.00" y2="325.19"/><line x1="448.30" y1="346.80" x2="468.00" y2="331.04"/></g></g><rect x="453.3" y="104.5" width="9.199999999999989" height="191.5" fill="none" stroke="#000" stroke-width="1.25"/><g stroke="#000" stroke-width="1.3"><g clip-path="url(#c21)"><line x1="462.00" y1="177.69" x2="512.00" y2="219.20"/><line x1="462.00" y1="216.71" x2="512.00" y2="175.20"/><line x1="462.00" y1="186.49" x2="512.00" y2="228.00"/><line x1="462.00" y1="225.51" x2="512.00" y2="184.00"/><line x1="462.00" y1="195.29" x2="512.00" y2="236.80"/><line x1="462.00" y1="234.31" x2="512.00" y2="192.80"/><line x1="462.00" y1="204.09" x2="512.00" y2="245.60"/><line x1="462.00" y1="243.11" x2="512.00" y2="201.60"/><line x1="462.00" y1="212.89" x2="512.00" y2="254.40"/><line x1="462.00" y1="251.91" x2="512.00" y2="210.40"/><line x1="462.00" y1="221.69" x2="512.00" y2="263.20"/><line x1="462.00" y1="260.71" x2="512.00" y2="219.20"/><line x1="462.00" y1="230.49" x2="512.00" y2="272.00"/><line x1="462.00" y1="269.51" x2="512.00" y2="228.00"/><line x1="462.00" y1="239.29" x2="512.00" y2="280.80"/><line x1="462.00" y1="278.31" x2="512.00" y2="236.80"/><line x1="462.00" y1="248.09" x2="512.00" y2="289.60"/><line x1="462.00" y1="287.11" x2="512.00" y2="245.60"/><line x1="462.00" y1="256.89" x2="512.00" y2="298.40"/><line x1="462.00" y1="295.91" x2="512.00" y2="254.40"/><line x1="462.00" y1="265.69" x2="512.00" y2="307.20"/><line x1="462.00" y1="304.71" x2="512.00" y2="263.20"/><line x1="462.00" y1="274.49" x2="512.00" y2="316.00"/><line x1="462.00" y1="313.51" x2="512.00" y2="272.00"/><line x1="462.00" y1="283.29" x2="512.00" y2="324.80"/><line x1="462.00" y1="322.31" x2="512.00" y2="280.80"/><line x1="462.00" y1="292.09" x2="512.00" y2="333.60"/><line x1="462.00" y1="331.11" x2="512.00" y2="289.60"/><line x1="462.00" y1="300.89" x2="512.00" y2="342.40"/><line x1="462.00" y1="339.91" x2="512.00" y2="298.40"/><line x1="462.00" y1="309.69" x2="512.00" y2="351.20"/><line x1="462.00" y1="348.71" x2="512.00" y2="307.20"/><line x1="462.00" y1="318.49" x2="512.00" y2="360.00"/><line x1="462.00" y1="357.51" x2="512.00" y2="316.00"/><line x1="462.00" y1="327.29" x2="512.00" y2="368.80"/><line x1="462.00" y1="366.31" x2="512.00" y2="324.80"/></g></g><rect x="482" y="260.5" width="9.5" height="35.5" fill="none" stroke="#000" stroke-width="1.25"/><g stroke="#000" stroke-width="1.25"><g clip-path="url(#c22)"><line x1="487.00" y1="25.05" x2="506.50" y2="9.45"/><line x1="487.00" y1="30.90" x2="506.50" y2="15.30"/><line x1="487.00" y1="36.75" x2="506.50" y2="21.15"/><line x1="487.00" y1="42.60" x2="506.50" y2="27.00"/><line x1="487.00" y1="48.45" x2="506.50" y2="32.85"/><line x1="487.00" y1="54.30" x2="506.50" y2="38.70"/><line x1="487.00" y1="60.15" x2="506.50" y2="44.55"/><line x1="487.00" y1="66.00" x2="506.50" y2="50.40"/><line x1="487.00" y1="71.85" x2="506.50" y2="56.25"/><line x1="487.00" y1="77.70" x2="506.50" y2="62.10"/><line x1="487.00" y1="83.55" x2="506.50" y2="67.95"/><line x1="487.00" y1="89.40" x2="506.50" y2="73.80"/><line x1="487.00" y1="95.25" x2="506.50" y2="79.65"/><line x1="487.00" y1="101.10" x2="506.50" y2="85.50"/><line x1="487.00" y1="106.95" x2="506.50" y2="91.35"/><line x1="487.00" y1="112.80" x2="506.50" y2="97.20"/><line x1="487.00" y1="118.65" x2="506.50" y2="103.05"/><line x1="487.00" y1="124.50" x2="506.50" y2="108.90"/><line x1="487.00" y1="130.35" x2="506.50" y2="114.75"/><line x1="487.00" y1="136.20" x2="506.50" y2="120.60"/><line x1="487.00" y1="142.05" x2="506.50" y2="126.45"/><line x1="487.00" y1="147.90" x2="506.50" y2="132.30"/><line x1="487.00" y1="153.75" x2="506.50" y2="138.15"/><line x1="487.00" y1="159.60" x2="506.50" y2="144.00"/><line x1="487.00" y1="165.45" x2="506.50" y2="149.85"/><line x1="487.00" y1="171.30" x2="506.50" y2="155.70"/><line x1="487.00" y1="177.15" x2="506.50" y2="161.55"/><line x1="487.00" y1="183.00" x2="506.50" y2="167.40"/><line x1="487.00" y1="188.85" x2="506.50" y2="173.25"/><line x1="487.00" y1="194.70" x2="506.50" y2="179.10"/><line x1="487.00" y1="200.55" x2="506.50" y2="184.95"/><line x1="487.00" y1="206.40" x2="506.50" y2="190.80"/><line x1="487.00" y1="212.25" x2="506.50" y2="196.65"/><line x1="487.00" y1="218.10" x2="506.50" y2="202.50"/><line x1="487.00" y1="223.95" x2="506.50" y2="208.35"/><line x1="487.00" y1="229.80" x2="506.50" y2="214.20"/><line x1="487.00" y1="235.65" x2="506.50" y2="220.05"/><line x1="487.00" y1="241.50" x2="506.50" y2="225.90"/><line x1="487.00" y1="247.35" x2="506.50" y2="231.75"/><line x1="487.00" y1="253.20" x2="506.50" y2="237.60"/><line x1="487.00" y1="259.05" x2="506.50" y2="243.45"/><line x1="487.00" y1="264.90" x2="506.50" y2="249.30"/><line x1="487.00" y1="270.75" x2="506.50" y2="255.15"/><line x1="487.00" y1="276.60" x2="506.50" y2="261.00"/><line x1="487.00" y1="282.45" x2="506.50" y2="266.85"/><line x1="487.00" y1="288.30" x2="506.50" y2="272.70"/><line x1="487.00" y1="294.15" x2="506.50" y2="278.55"/><line x1="487.00" y1="300.00" x2="506.50" y2="284.40"/><line x1="487.00" y1="305.85" x2="506.50" y2="290.25"/><line x1="487.00" y1="311.70" x2="506.50" y2="296.10"/><line x1="487.00" y1="317.55" x2="506.50" y2="301.95"/><line x1="487.00" y1="323.40" x2="506.50" y2="307.80"/><line x1="487.00" y1="329.25" x2="506.50" y2="313.65"/><line x1="487.00" y1="335.10" x2="506.50" y2="319.50"/><line x1="487.00" y1="340.95" x2="506.50" y2="325.35"/><line x1="487.00" y1="346.80" x2="506.50" y2="331.20"/></g></g><rect x="492" y="74.5" width="9.0" height="221.5" fill="none" stroke="#000" stroke-width="1.25"/>
<line x1="96.5" y1="267.5" x2="96.5" y2="277.1" stroke="#222" stroke-width="0.95"/><line x1="92.9" y1="267.5" x2="100.1" y2="267.5" stroke="#111" stroke-width="1.1"/><line x1="106.5" y1="270.5" x2="106.5" y2="282.8" stroke="#222" stroke-width="0.9"/><line x1="106.5" y1="258.5" x2="106.5" y2="270.5" stroke="#222" stroke-width="0.95"/><line x1="102.9" y1="258.5" x2="110.1" y2="258.5" stroke="#111" stroke-width="1.1"/><line x1="116.5" y1="275.7" x2="116.5" y2="286.2" stroke="#222" stroke-width="0.9"/><line x1="116.5" y1="265.5" x2="116.5" y2="275.7" stroke="#222" stroke-width="0.95"/><line x1="112.9" y1="265.5" x2="120.1" y2="265.5" stroke="#111" stroke-width="1.1"/><line x1="135.5" y1="155.5" x2="135.5" y2="177.7" stroke="#222" stroke-width="0.95"/><line x1="131.9" y1="155.5" x2="139.1" y2="155.5" stroke="#111" stroke-width="1.1"/><line x1="144.5" y1="227" x2="144.5" y2="242.5" stroke="#222" stroke-width="0.9"/><line x1="144.5" y1="211.5" x2="144.5" y2="227" stroke="#222" stroke-width="0.95"/><line x1="140.9" y1="211.5" x2="148.1" y2="211.5" stroke="#111" stroke-width="1.1"/><line x1="153.5" y1="181.4" x2="153.5" y2="198.20000000000002" stroke="#222" stroke-width="0.9"/><line x1="153.5" y1="164.5" x2="153.5" y2="181.4" stroke="#222" stroke-width="0.95"/><line x1="149.9" y1="164.5" x2="157.1" y2="164.5" stroke="#111" stroke-width="1.1"/><line x1="173.5" y1="195.5" x2="173.5" y2="210" stroke="#222" stroke-width="0.95"/><line x1="169.9" y1="195.5" x2="177.1" y2="195.5" stroke="#111" stroke-width="1.1"/><line x1="182.5" y1="253.1" x2="182.5" y2="265.7" stroke="#222" stroke-width="0.9"/><line x1="182.5" y1="240.5" x2="182.5" y2="253.1" stroke="#222" stroke-width="0.95"/><line x1="178.9" y1="240.5" x2="186.1" y2="240.5" stroke="#111" stroke-width="1.1"/><line x1="191.5" y1="206.2" x2="191.5" y2="219.89999999999998" stroke="#222" stroke-width="0.9"/><line x1="191.5" y1="192.5" x2="191.5" y2="206.2" stroke="#222" stroke-width="0.95"/><line x1="187.9" y1="192.5" x2="195.1" y2="192.5" stroke="#111" stroke-width="1.1"/><line x1="211.5" y1="229.5" x2="211.5" y2="241.2" stroke="#222" stroke-width="0.95"/><line x1="207.9" y1="229.5" x2="215.1" y2="229.5" stroke="#111" stroke-width="1.1"/><line x1="220.5" y1="248.8" x2="220.5" y2="261.1" stroke="#222" stroke-width="0.9"/><line x1="220.5" y1="236.5" x2="220.5" y2="248.8" stroke="#222" stroke-width="0.95"/><line x1="216.9" y1="236.5" x2="224.1" y2="236.5" stroke="#111" stroke-width="1.1"/><line x1="230.5" y1="242.1" x2="230.5" y2="253.7" stroke="#222" stroke-width="0.9"/><line x1="230.5" y1="230.5" x2="230.5" y2="242.1" stroke="#222" stroke-width="0.95"/><line x1="226.9" y1="230.5" x2="234.1" y2="230.5" stroke="#111" stroke-width="1.1"/><line x1="249.5" y1="129.5" x2="249.5" y2="148.7" stroke="#222" stroke-width="0.95"/><line x1="245.9" y1="129.5" x2="253.1" y2="129.5" stroke="#111" stroke-width="1.1"/><line x1="259.5" y1="176.1" x2="259.5" y2="189.6" stroke="#222" stroke-width="0.9"/><line x1="259.5" y1="162.5" x2="259.5" y2="176.1" stroke="#222" stroke-width="0.95"/><line x1="255.9" y1="162.5" x2="263.1" y2="162.5" stroke="#111" stroke-width="1.1"/><line x1="268.5" y1="146.2" x2="268.5" y2="163.89999999999998" stroke="#222" stroke-width="0.9"/><line x1="268.5" y1="128.5" x2="268.5" y2="146.2" stroke="#222" stroke-width="0.95"/><line x1="264.9" y1="128.5" x2="272.1" y2="128.5" stroke="#111" stroke-width="1.1"/><line x1="287.5" y1="156.5" x2="287.5" y2="178.7" stroke="#222" stroke-width="0.95"/><line x1="283.9" y1="156.5" x2="291.1" y2="156.5" stroke="#111" stroke-width="1.1"/><line x1="296.5" y1="225.2" x2="296.5" y2="241.29999999999998" stroke="#222" stroke-width="0.9"/><line x1="296.5" y1="209.5" x2="296.5" y2="225.2" stroke="#222" stroke-width="0.95"/><line x1="292.9" y1="209.5" x2="300.1" y2="209.5" stroke="#111" stroke-width="1.1"/><line x1="306.5" y1="182.5" x2="306.5" y2="205.6" stroke="#222" stroke-width="0.9"/><line x1="306.5" y1="159.5" x2="306.5" y2="182.5" stroke="#222" stroke-width="0.95"/><line x1="302.9" y1="159.5" x2="310.1" y2="159.5" stroke="#111" stroke-width="1.1"/><line x1="325.5" y1="151.5" x2="325.5" y2="164.2" stroke="#222" stroke-width="0.95"/><line x1="321.9" y1="151.5" x2="329.1" y2="151.5" stroke="#111" stroke-width="1.1"/><line x1="334.5" y1="234.1" x2="334.5" y2="243.39999999999998" stroke="#222" stroke-width="0.9"/><line x1="334.5" y1="224.5" x2="334.5" y2="234.1" stroke="#222" stroke-width="0.95"/><line x1="330.9" y1="224.5" x2="338.1" y2="224.5" stroke="#111" stroke-width="1.1"/><line x1="344.5" y1="165.2" x2="344.5" y2="177.7" stroke="#222" stroke-width="0.9"/><line x1="344.5" y1="152.5" x2="344.5" y2="165.2" stroke="#222" stroke-width="0.95"/><line x1="340.9" y1="152.5" x2="348.1" y2="152.5" stroke="#111" stroke-width="1.1"/><line x1="363.5" y1="162.5" x2="363.5" y2="181" stroke="#222" stroke-width="0.95"/><line x1="359.9" y1="162.5" x2="367.1" y2="162.5" stroke="#111" stroke-width="1.1"/><line x1="372.5" y1="219.8" x2="372.5" y2="227.40000000000003" stroke="#222" stroke-width="0.9"/><line x1="372.5" y1="212.5" x2="372.5" y2="219.8" stroke="#222" stroke-width="0.95"/><line x1="368.9" y1="212.5" x2="376.1" y2="212.5" stroke="#111" stroke-width="1.1"/><line x1="382.5" y1="187.2" x2="382.5" y2="209.29999999999998" stroke="#222" stroke-width="0.9"/><line x1="382.5" y1="165.5" x2="382.5" y2="187.2" stroke="#222" stroke-width="0.95"/><line x1="378.9" y1="165.5" x2="386.1" y2="165.5" stroke="#111" stroke-width="1.1"/><line x1="401.5" y1="168.5" x2="401.5" y2="184.9" stroke="#222" stroke-width="0.95"/><line x1="397.9" y1="168.5" x2="405.1" y2="168.5" stroke="#111" stroke-width="1.1"/><line x1="410.5" y1="240.3" x2="410.5" y2="249.3" stroke="#222" stroke-width="0.9"/><line x1="410.5" y1="231.5" x2="410.5" y2="240.3" stroke="#222" stroke-width="0.95"/><line x1="406.9" y1="231.5" x2="414.1" y2="231.5" stroke="#111" stroke-width="1.1"/><line x1="420.5" y1="188.2" x2="420.5" y2="206.59999999999997" stroke="#222" stroke-width="0.9"/><line x1="420.5" y1="169.5" x2="420.5" y2="188.2" stroke="#222" stroke-width="0.95"/><line x1="416.9" y1="169.5" x2="424.1" y2="169.5" stroke="#111" stroke-width="1.1"/><line x1="439.5" y1="93.5" x2="439.5" y2="110" stroke="#222" stroke-width="0.95"/><line x1="435.9" y1="93.5" x2="443.1" y2="93.5" stroke="#111" stroke-width="1.1"/><line x1="448.5" y1="201.4" x2="448.5" y2="211.3" stroke="#222" stroke-width="0.9"/><line x1="448.5" y1="191.5" x2="448.5" y2="201.4" stroke="#222" stroke-width="0.95"/><line x1="444.9" y1="191.5" x2="452.1" y2="191.5" stroke="#111" stroke-width="1.1"/><line x1="458.5" y1="104" x2="458.5" y2="119.8" stroke="#222" stroke-width="0.9"/><line x1="458.5" y1="88.5" x2="458.5" y2="104" stroke="#222" stroke-width="0.95"/><line x1="454.9" y1="88.5" x2="462.1" y2="88.5" stroke="#111" stroke-width="1.1"/><line x1="478.5" y1="52.5" x2="478.5" y2="79.3" stroke="#222" stroke-width="0.95"/><line x1="474.9" y1="52.5" x2="482.1" y2="52.5" stroke="#111" stroke-width="1.1"/><line x1="487.5" y1="260.2" x2="487.5" y2="277.4" stroke="#222" stroke-width="0.9"/><line x1="487.5" y1="243.5" x2="487.5" y2="260.2" stroke="#222" stroke-width="0.95"/><line x1="483.9" y1="243.5" x2="491.1" y2="243.5" stroke="#111" stroke-width="1.1"/><line x1="496.5" y1="74.1" x2="496.5" y2="90.19999999999999" stroke="#222" stroke-width="0.9"/><line x1="496.5" y1="58.5" x2="496.5" y2="74.1" stroke="#222" stroke-width="0.95"/><line x1="492.9" y1="58.5" x2="500.1" y2="58.5" stroke="#111" stroke-width="1.1"/>
<line x1="78" y1="50.5" x2="78" y2="296" stroke="#444" stroke-width="1.2"/><line x1="77.4" y1="296" x2="518" y2="296" stroke="#222" stroke-width="1.5"/><line x1="72.5" y1="51" x2="78" y2="51" stroke="#222" stroke-width="1.2"/><text transform="translate(55.36,56.8) scale(0.95,1)" font-size="13" letter-spacing="1.560" stroke="#000" stroke-width="0">80</text><line x1="72.5" y1="99.5" x2="78" y2="99.5" stroke="#222" stroke-width="1.2"/><text transform="translate(55.17,105.3) scale(0.95,1)" font-size="13" letter-spacing="1.107" stroke="#000" stroke-width="0">64</text><line x1="72.5" y1="148.3" x2="78" y2="148.3" stroke="#222" stroke-width="1.2"/><text transform="translate(55.52,154.1) scale(0.95,1)" font-size="13" letter-spacing="1.140" stroke="#000" stroke-width="0">48</text><line x1="72.5" y1="197.8" x2="78" y2="197.8" stroke="#222" stroke-width="1.2"/><text transform="translate(54.83,203.6) scale(0.95,1)" font-size="13" letter-spacing="1.847" stroke="#000" stroke-width="0">32</text><line x1="72.5" y1="246.3" x2="78" y2="246.3" stroke="#222" stroke-width="1.2"/><text transform="translate(55.56,252.1) scale(0.95,1)" font-size="13" letter-spacing="1.312" stroke="#000" stroke-width="0">16</text><text transform="translate(62.72,301.3) scale(0.95,1)" font-size="13" letter-spacing="0.000" stroke="#000" stroke-width="0">0</text><text transform="translate(93.41,318.8) scale(0.9,1)" font-size="13" letter-spacing="1.693" stroke="#000" stroke-width="0.15">Cntl</text><text transform="translate(140.48,318.8) scale(0.9,1)" font-size="13" letter-spacing="0.000" stroke="#000" stroke-width="0.15">A</text><text x="144" y="334.6" text-anchor="middle" font-size="13" font-weight="bold">0.31</text><text transform="translate(178.83,318.8) scale(0.9,1)" font-size="13" letter-spacing="0.000" stroke="#000" stroke-width="0.15">B</text><text x="183" y="334.6" text-anchor="middle" font-size="13" font-weight="bold">0.28</text><text transform="translate(216.60,318.8) scale(0.9,1)" font-size="13" letter-spacing="0.000" stroke="#000" stroke-width="0.15">C</text><text x="221" y="334.6" text-anchor="middle" font-size="13" font-weight="bold">0.21</text><text transform="translate(254.48,318.8) scale(0.9,1)" font-size="13" letter-spacing="0.000" stroke="#000" stroke-width="0.15">D</text><text x="259.7" y="334.6" text-anchor="middle" font-size="13" font-weight="bold">0.57</text><text transform="translate(292.77,318.8) scale(0.9,1)" font-size="13" letter-spacing="0.000" stroke="#000" stroke-width="0.15">E</text><text x="299.2" y="334.6" text-anchor="middle" font-size="13" font-weight="bold">0.32</text><text transform="translate(331.08,318.8) scale(0.9,1)" font-size="13" letter-spacing="0.000" stroke="#000" stroke-width="0.15">F</text><text x="335.2" y="334.6" text-anchor="middle" font-size="13" font-weight="bold">0.64</text><text transform="translate(368.49,318.8) scale(0.9,1)" font-size="13" letter-spacing="0.000" stroke="#000" stroke-width="0.15">G</text><text x="376.2" y="334.6" text-anchor="middle" font-size="13" font-weight="bold">0.65</text><text transform="translate(406.67,318.8) scale(0.9,1)" font-size="13" letter-spacing="0.000" stroke="#000" stroke-width="0.15">H</text><text x="412.2" y="334.6" text-anchor="middle" font-size="13" font-weight="bold">1.32</text><text transform="translate(447.27,318.8) scale(0.9,1)" font-size="13" letter-spacing="0.000" stroke="#000" stroke-width="0.15">I</text><text x="452" y="334.6" text-anchor="middle" font-size="13" font-weight="bold">1.49</text><text transform="translate(466.91,318.8) scale(0.9,1)" font-size="13" letter-spacing="1.195" stroke="#000" stroke-width="0.15">CH 11</text><text x="0.5" y="333.3" font-size="13" font-weight="bold" letter-spacing="0.25">sFasL (ng/ml)</text><line x1="76.5" y1="338.3" x2="517" y2="338.3" stroke="#222" stroke-width="1.4"/><text x="144" y="361.4" font-size="18" font-weight="bold" letter-spacing="0.68">Sera from LGL Leukemia Patients</text><text transform="translate(36,258.8) rotate(-90)" x="0" y="0" font-size="16" letter-spacing="1.4">% of Apoptotic Cells</text>
<rect x="78" y="1" width="36" height="15" fill="#000"/><text transform="translate(124.84,15.8) scale(0.9,1)" font-size="13" letter-spacing="1.506" stroke="#000" stroke-width="0.2">Med alone</text><g stroke="#000" stroke-width="1.1"><g clip-path="url(#c23)"><line x1="205.00" y1="-93.00" x2="281.00" y2="-17.00"/><line x1="205.00" y1="-33.00" x2="281.00" y2="-109.00"/><line x1="205.00" y1="-84.00" x2="281.00" y2="-8.00"/><line x1="205.00" y1="-24.00" x2="281.00" y2="-100.00"/><line x1="205.00" y1="-75.00" x2="281.00" y2="1.00"/><line x1="205.00" y1="-15.00" x2="281.00" y2="-91.00"/><line x1="205.00" y1="-66.00" x2="281.00" y2="10.00"/><line x1="205.00" y1="-6.00" x2="281.00" y2="-82.00"/><line x1="205.00" y1="-57.00" x2="281.00" y2="19.00"/><line x1="205.00" y1="3.00" x2="281.00" y2="-73.00"/><line x1="205.00" y1="-48.00" x2="281.00" y2="28.00"/><line x1="205.00" y1="12.00" x2="281.00" y2="-64.00"/><line x1="205.00" y1="-39.00" x2="281.00" y2="37.00"/><line x1="205.00" y1="21.00" x2="281.00" y2="-55.00"/><line x1="205.00" y1="-30.00" x2="281.00" y2="46.00"/><line x1="205.00" y1="30.00" x2="281.00" y2="-46.00"/><line x1="205.00" y1="-21.00" x2="281.00" y2="55.00"/><line x1="205.00" y1="39.00" x2="281.00" y2="-37.00"/><line x1="205.00" y1="-12.00" x2="281.00" y2="64.00"/><line x1="205.00" y1="48.00" x2="281.00" y2="-28.00"/><line x1="205.00" y1="-3.00" x2="281.00" y2="73.00"/><line x1="205.00" y1="57.00" x2="281.00" y2="-19.00"/><line x1="205.00" y1="6.00" x2="281.00" y2="82.00"/><line x1="205.00" y1="66.00" x2="281.00" y2="-10.00"/><line x1="205.00" y1="15.00" x2="281.00" y2="91.00"/><line x1="205.00" y1="75.00" x2="281.00" y2="-1.00"/><line x1="205.00" y1="24.00" x2="281.00" y2="100.00"/><line x1="205.00" y1="84.00" x2="281.00" y2="8.00"/><line x1="205.00" y1="33.00" x2="281.00" y2="109.00"/><line x1="205.00" y1="93.00" x2="281.00" y2="17.00"/><line x1="205.00" y1="42.00" x2="281.00" y2="118.00"/><line x1="205.00" y1="102.00" x2="281.00" y2="26.00"/></g></g><rect x="225.6" y="2.6" width="34.8" height="13.3" fill="none" stroke="#000" stroke-width="1.3"/><text transform="translate(272.93,15.8) scale(0.9,1)" font-size="13" letter-spacing="1.287" stroke="#000" stroke-width="0.2">+blocking Ab</text><g stroke="#000" stroke-width="1.1"><g clip-path="url(#c24)"><line x1="367.20" y1="-50.30" x2="412.50" y2="-95.60"/><line x1="367.20" y1="-44.20" x2="412.50" y2="-89.50"/><line x1="367.20" y1="-38.10" x2="412.50" y2="-83.40"/><line x1="367.20" y1="-32.00" x2="412.50" y2="-77.30"/><line x1="367.20" y1="-25.90" x2="412.50" y2="-71.20"/><line x1="367.20" y1="-19.80" x2="412.50" y2="-65.10"/><line x1="367.20" y1="-13.70" x2="412.50" y2="-59.00"/><line x1="367.20" y1="-7.60" x2="412.50" y2="-52.90"/><line x1="367.20" y1="-1.50" x2="412.50" y2="-46.80"/><line x1="367.20" y1="4.60" x2="412.50" y2="-40.70"/><line x1="367.20" y1="10.70" x2="412.50" y2="-34.60"/><line x1="367.20" y1="16.80" x2="412.50" y2="-28.50"/><line x1="367.20" y1="22.90" x2="412.50" y2="-22.40"/><line x1="367.20" y1="29.00" x2="412.50" y2="-16.30"/><line x1="367.20" y1="35.10" x2="412.50" y2="-10.20"/><line x1="367.20" y1="41.20" x2="412.50" y2="-4.10"/><line x1="367.20" y1="47.30" x2="412.50" y2="2.00"/><line x1="367.20" y1="53.40" x2="412.50" y2="8.10"/><line x1="367.20" y1="59.50" x2="412.50" y2="14.20"/><line x1="367.20" y1="65.60" x2="412.50" y2="20.30"/><line x1="367.20" y1="71.70" x2="412.50" y2="26.40"/></g></g><rect x="372.8" y="2.6" width="34.1" height="13.3" fill="none" stroke="#000" stroke-width="1.3"/><text transform="translate(418.43,16.2) scale(0.9,1)" font-size="13" letter-spacing="1.481" stroke="#000" stroke-width="0.2">+IgG1 cntl</text>
</svg>
</body></html>
